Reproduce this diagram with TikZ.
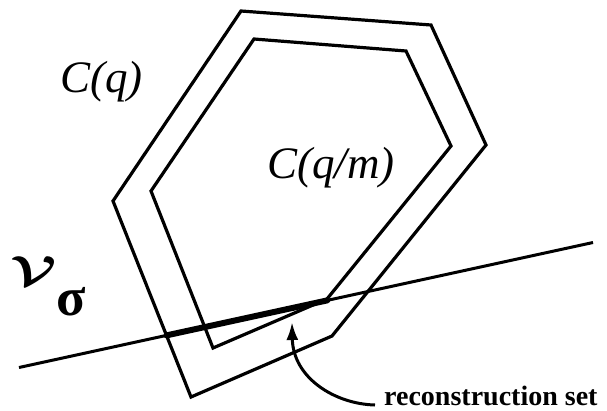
\documentclass[tikz,border=0pt]{standalone}
\usepackage{fix-cm}
\usepackage{graphicx}
\usepackage{fontspec}
\newfontfamily\reconfont{Liberation Serif}
\usetikzlibrary{arrows.meta,calc}

\begin{document}
\begin{tikzpicture}[
    x=1pt, y=-1pt,
    edge/.style={
        draw=black,
        line width=3.2pt,
        line join=miter
    },
    cutline/.style={
        draw=black,
        line width=3pt
    },
    recset/.style={
        draw=black,
        line width=6pt,
        line cap=round
    },
    arrow/.style={-{Latex[length=18pt, width=12pt]}, line width=3pt},
    setlabel/.style={
        inner sep=0pt,
        anchor=base west,
        font=\reconfont\fontsize{45}{45}\selectfont\itshape
    }
]
\useasboundingbox (0,0) rectangle (607,410);

% outer polygon C(q)
\coordinate (o1) at (241,11);
\coordinate (o2) at (431,25);
\coordinate (o3) at (486,145);
\coordinate (o4) at (332,336);
\coordinate (o5) at (191,397);
\coordinate (o6) at (113,201);
\draw[edge] (o1) -- (o2) -- (o3) -- (o4) -- (o5) -- (o6) -- cycle;

% inner polygon C(q/m)
\coordinate (i1) at (254,39);
\coordinate (i2) at (406,51);
\coordinate (i3) at (451,146);
\coordinate (i4) at (327,299);
\coordinate (i5) at (213,348);
\coordinate (i6) at (151,191);
\draw[edge] (i1) -- (i2) -- (i3) -- (i4) -- (i5) -- (i6) -- cycle;

% the line V_sigma
\coordinate (A) at (19,367.5);
\coordinate (B) at (593,242.5);
\draw[cutline] (A) -- (B);

% reconstruction set on the line
\coordinate (r1) at (intersection of A--B and o6--o5);
\coordinate (r2) at ($(A)!(i4)!(B)$);
\draw[recset] (r1) -- (r2);

\node[setlabel] (cq) at (60,92) {C(q)};
\node[setlabel] (cqm) at (267,178) {C(q/m)};

\node[inner sep=0pt, anchor=base west] (vsig) at (10,285)
    {\scalebox{1.35}[1]{\fontsize{42}{42}\selectfont\boldmath$\mathcal{V}$}\raisebox{-30pt}{\fontsize{54}{54}\selectfont\reconfont\bfseries σ}};

\node[inner xsep=9pt, inner ysep=0pt, anchor=base west,
      font=\reconfont\bfseries\fontsize{28}{28}\selectfont] (recon) at (375,405) {reconstruction set};

\coordinate (tip) at (292,322);
\draw[arrow] (recon.base west) .. controls (335,404) and (293,378) .. (tip);

\end{tikzpicture}
\end{document}
